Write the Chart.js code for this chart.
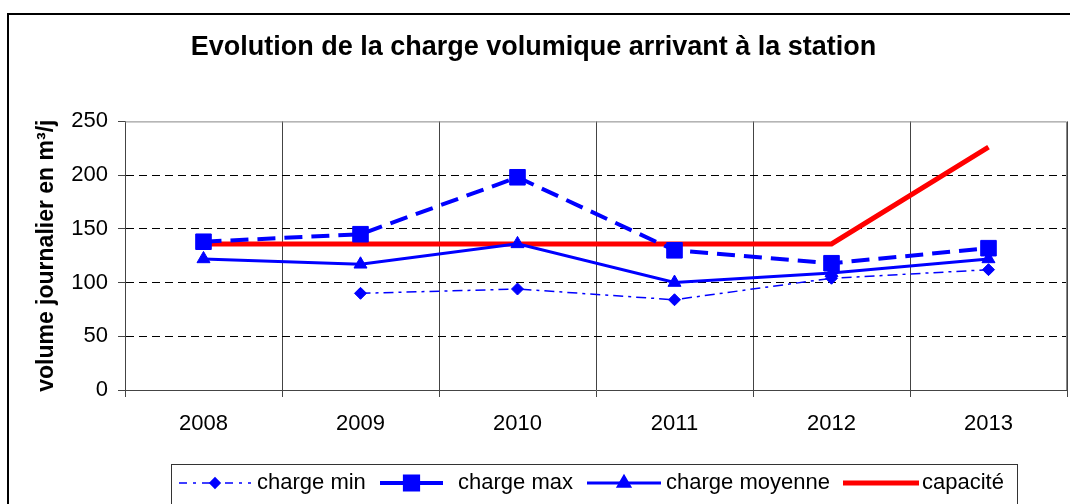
<!DOCTYPE html>
<html>
<head>
<meta charset="utf-8">
<script src="https://cdn.jsdelivr.net/npm/chart.js@4/dist/chart.umd.min.js"></script>
<style>
  html, body { margin: 0; padding: 0; background: #fff; }
  canvas { display: block; }
</style>
</head>
<body>
<canvas id="chargeChart" width="1070" height="504"></canvas>
<script>
// DATA
const years = ["2008", "2009", "2010", "2011", "2012", "2013"];
const chargeMin = [null, 90, 94, 84, 104, 112];
const chargeMax = [138, 145, 198, 130, 118, 132];
const chargeMoyenne = [122, 117, 136, 100, 109, 122];
const capacite = [136, 136, 136, 136, 136, 226];
const yMin = 0, yMax = 250, yStep = 50;

const BLUE = "#0000FF";
const RED = "#FF0000";
Chart.defaults.font.family = "'Liberation Sans', Arial, sans-serif";
Chart.defaults.color = "#000";

// frame around the whole chart + grey border round the plot area
const framePlugin = {
    id: "frame",
    beforeDraw(chart) {
        const ctx = chart.ctx;
        ctx.save();
        ctx.fillStyle = "#fff";
        ctx.fillRect(0, 0, chart.width, chart.height);
        ctx.strokeStyle = "#000";
        ctx.lineWidth = 2;
        ctx.strokeRect(8, 14, chart.width + 20, chart.height + 20);
        ctx.restore();
    },
    beforeDatasetsDraw(chart) {
        const a = chart.chartArea;
        const ctx = chart.ctx;
        ctx.save();
        ctx.strokeStyle = "#888";
        ctx.lineWidth = 1;
        ctx.beginPath();
        ctx.moveTo(a.left, a.top + 0.5);
        ctx.lineTo(a.right - 0.5, a.top + 0.5);
        ctx.lineTo(a.right - 0.5, a.bottom);
        ctx.stroke();
        ctx.restore();
    }
};

// excel-like legend: line sample with marker in the middle
const legendPlugin = {
    id: "excelLegend",
    afterDraw(chart) {
        const ctx = chart.ctx;
        ctx.save();
        ctx.strokeStyle = "#333";
        ctx.lineWidth = 1;
        ctx.strokeRect(171.5, 464.5, 846, 60);

        // where each entry starts, its sample length, where its text starts
        const slots = [[179, 72, 257], [380, 63, 458], [587, 74, 666], [843, 76, 922]];
        const y = 483;
        ctx.font = "22px 'Liberation Sans', Arial, sans-serif";
        ctx.textBaseline = "middle";
        chart.data.datasets.forEach((ds, i) => {
            const [x, w, tx] = slots[i];
            ctx.strokeStyle = ds.borderColor;
            ctx.fillStyle = ds.borderColor;
            ctx.lineWidth = ds.borderWidth;
            ctx.setLineDash(ds.legendDash || []);
            ctx.beginPath();
            ctx.moveTo(x, y);
            ctx.lineTo(x + w, y);
            ctx.stroke();
            ctx.setLineDash([]);
            if (ds.pointRadius > 0) {
                Chart.helpers.drawPoint(ctx, {
                    pointStyle: ds.pointStyle,
                    radius: ds.pointRadius * 0.85,
                    rotation: 0,
                    borderWidth: 1
                }, x + w / 2, y);
            }
            ctx.fillStyle = "#000";
            ctx.fillText(ds.label, tx, y);
        });
        ctx.restore();
    }
};

new Chart(document.getElementById("chargeChart"), {
    type: "line",
    data: {
        labels: years,
        datasets: [
            {
                label: "charge min",
                data: chargeMin,
                borderColor: BLUE,
                backgroundColor: BLUE,
                borderWidth: 1.5,
                borderDash: [10, 5, 3, 5],
                legendDash: [8, 6, 3, 6],
                pointStyle: "rectRot",
                pointRadius: 6,
                pointBorderWidth: 1,
                order: 0
            },
            {
                label: "charge max",
                data: chargeMax,
                borderColor: BLUE,
                backgroundColor: BLUE,
                borderWidth: 4,
                borderDash: [18, 9],
                legendDash: [],
                pointStyle: "rect",
                pointRadius: 11,
                pointBorderWidth: 1,
                order: 0
            },
            {
                label: "charge moyenne",
                data: chargeMoyenne,
                borderColor: BLUE,
                backgroundColor: BLUE,
                borderWidth: 3,
                pointStyle: "triangle",
                pointRadius: 7.5,
                pointBorderWidth: 1,
                order: 0
            },
            {
                label: "capacité",
                data: capacite,
                borderColor: RED,
                backgroundColor: RED,
                borderWidth: 5,
                pointRadius: 0,
                order: 1
            }
        ]
    },
    options: {
        responsive: false,
        animation: false,
        spanGaps: false,
        layout: { autoPadding: false, padding: { left: 0, right: 3, top: 0, bottom: 0 } },
        plugins: {
            legend: { display: false },
            tooltip: { enabled: false },
            title: {
                display: true,
                text: "Evolution de la charge volumique arrivant à la station",
                font: { size: 27, weight: "bold" },
                color: "#000",
                padding: { top: 31, bottom: 58 }
            }
        },
        scales: {
            x: {
                offset: true,
                grid: {
                    offset: true,
                    color: "#444",
                    lineWidth: 1,
                    tickLength: 7,
                    tickColor: "#444"
                },
                border: { color: "#444", width: 1 },
                ticks: { font: { size: 22 }, padding: 14, color: "#000" },
                afterFit(scale) {
                    scale.height = 114;
                    scale.paddingLeft = 0;
                    scale.paddingRight = 0;
                }
            },
            y: {
                min: yMin,
                max: yMax,
                grid: {
                    color: ctx => (ctx.tick && (ctx.tick.value === yMax || ctx.tick.value === yMin)) ? "rgba(0,0,0,0)" : "#000",
                    lineWidth: 1,
                    tickLength: 7,
                    tickColor: "#444",
                    tickBorderDash: []
                },
                border: { color: "#444", width: 1, dash: [8, 5] },
                ticks: { stepSize: yStep, font: { size: 22 }, padding: 10, color: "#000" },
                title: {
                    display: true,
                    text: "volume journalier en m³/j",
                    font: { size: 23, weight: "bold" },
                    color: "#000",
                    padding: { top: 33, bottom: 0 }
                },
                afterFit(scale) { scale.width = 125; }
            }
        }
    },
    plugins: [framePlugin, legendPlugin]
});
</script>
</body>
</html>
